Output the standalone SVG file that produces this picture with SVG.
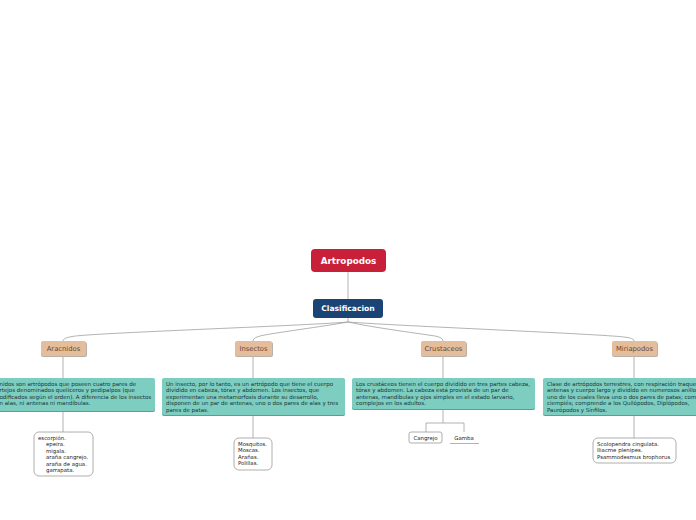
<svg xmlns="http://www.w3.org/2000/svg" width="696" height="520" viewBox="0 0 696 520">
<style>
.t{font-family:"DejaVu Sans",Verdana,sans-serif}
.root{fill:#c82038}
.cls{fill:#1b4476}
.l2{fill:#e4bd9d}
.l2s{fill:#b9b0a8}
.l2t{font-size:6.8px;fill:#6a4a32}
.desc{fill:#7dcdc1}
.descs{fill:#5c9e94}
.dt{font-size:5.5px;fill:#183632}
.leaf{fill:#fff;stroke:#9a9a9a;stroke-width:0.8}
.lt{font-size:5.4px;fill:#222}
.c{fill:none;stroke:#a0a0a0;stroke-width:0.8}
</style>
<rect width="696" height="520" fill="#fff"/>
<g id="connectors">
<path class="c" d="M348,272 V299"/>
<path class="c" d="M348,318 V322 C300,326 90,333 72,336.5 Q63,338 63,341"/>
<path class="c" d="M348,322 C320,327 280,332 262,335.5 Q253,337.5 253,341"/>
<path class="c" d="M348,322 C370,327 415,333 435,336 Q443,337.5 443,341"/>
<path class="c" d="M348,322 C400,326 600,334 624,337 Q634,338 634,341"/>
<path class="c" d="M63,356 V378 M63,411 V432"/>
<path class="c" d="M253,356 V378 M253,415 V438"/>
<path class="c" d="M443,356 V378 M443,409 V423 M426,423 H464 M426,423 V432 M464,423 V432"/>
<path class="c" d="M634,356 V378 M634,415 V438"/>
</g>
<g id="artropodos">
<rect class="root" x="311" y="249" width="75" height="23" rx="4"/>
<text class="t" x="348.5" y="263.5" text-anchor="middle" font-size="8.8" font-weight="bold" fill="#fff">Artropodos</text>
</g>
<g id="clasificacion">
<rect class="cls" x="313" y="299" width="70" height="19" rx="3"/>
<text class="t" x="348" y="311.3" text-anchor="middle" font-size="7.6" font-weight="bold" fill="#fff">Clasificacion</text>
</g>
<g id="aracnidos">
<rect class="l2s" x="41" y="342" width="46" height="15" rx="2"/>
<rect class="l2" x="41" y="341" width="45" height="15" rx="2"/>
<text class="t l2t" x="63.5" y="351" text-anchor="middle">Aracnidos</text>
</g>
<g id="insectos">
<rect class="l2s" x="235" y="342" width="38" height="15" rx="2"/>
<rect class="l2" x="235" y="341" width="37" height="15" rx="2"/>
<text class="t l2t" x="253.5" y="351" text-anchor="middle">Insectos</text>
</g>
<g id="crustaceos">
<rect class="l2s" x="421" y="342" width="46" height="15" rx="2"/>
<rect class="l2" x="421" y="341" width="45" height="15" rx="2"/>
<text class="t l2t" x="443.5" y="351" text-anchor="middle">Crustaceos</text>
</g>
<g id="miriapodos">
<rect class="l2s" x="612" y="342" width="46" height="15" rx="2"/>
<rect class="l2" x="612" y="341" width="45" height="15" rx="2"/>
<text class="t l2t" x="634.5" y="351" text-anchor="middle">Miriapodos</text>
</g>
<g id="desc-aracnidos">
<rect class="descs" x="-30" y="379" width="185" height="33" rx="2"/>
<rect class="desc" x="-30" y="378" width="185" height="33" rx="2"/>
<text class="t dt"><tspan x="-0.5" y="385.5">nidos son artrópodos que poseen cuatro pares de</tspan><tspan x="-0.5" y="392">rtejos denominados quelíceros y pedipalpos (que</tspan><tspan x="-0.5" y="398.5">odificados según el orden). A diferencia de los insectos</tspan><tspan x="-0.5" y="405">n alas, ni antenas ni mandíbulas.</tspan></text>
</g>
<g id="desc-insectos">
<rect class="descs" x="162" y="379" width="183" height="37" rx="2"/>
<rect class="desc" x="162" y="378" width="183" height="37" rx="2"/>
<text class="t dt"><tspan x="166" y="385.5">Un insecto, por lo tanto, es un artrópodo que tiene el cuerpo</tspan><tspan x="166" y="392">dividido en cabeza, tórax y abdomen. Los insectos, que</tspan><tspan x="166" y="398.5">experimentan una metamorfosis durante su desarrollo,</tspan><tspan x="166" y="405">disponen de un par de antenas, uno o dos pares de alas y tres</tspan><tspan x="166" y="411.5">pares de patas.</tspan></text>
</g>
<g id="desc-crustaceos">
<rect class="descs" x="352" y="379" width="183" height="31" rx="2"/>
<rect class="desc" x="352" y="378" width="183" height="31" rx="2"/>
<text class="t dt"><tspan x="356" y="385.5">Los crustáceos tienen el cuerpo dividido en tres partes cabeza,</tspan><tspan x="356" y="392">tórax y abdomen. La cabeza está provista de un par de</tspan><tspan x="356" y="398.5">antenas, mandíbulas y ojos simples en el estado larvario,</tspan><tspan x="356" y="405">complejos en los adultos.</tspan></text>
</g>
<g id="desc-miriapodos">
<rect class="descs" x="543" y="379" width="160" height="37" rx="2"/>
<rect class="desc" x="543" y="378" width="160" height="37" rx="2"/>
<text class="t dt"><tspan x="547" y="385.5">Clase de artrópodos terrestres, con respiración traque</tspan><tspan x="547" y="392">antenas y cuerpo largo y dividido en numerosos anillo</tspan><tspan x="547" y="398.5">uno de los cuales lleva uno o dos pares de patas; com</tspan><tspan x="547" y="405">ciempiés; comprende a los Quilópodos, Diplópodos,</tspan><tspan x="547" y="411.5">Paurópodos y Sínfilos.</tspan></text>
</g>
<g id="leaf-aracnidos">
<rect class="leaf" x="34" y="432" width="59" height="44" rx="5"/>
<text class="t lt"><tspan x="38" y="439.5">escorpión.</tspan><tspan x="46" y="446">epeira.</tspan><tspan x="46" y="452.5">migala.</tspan><tspan x="46" y="459">araña cangrejo.</tspan><tspan x="46" y="465.5">araña de agua.</tspan><tspan x="46" y="472">garrapata.</tspan></text>
</g>
<g id="leaf-insectos">
<rect class="leaf" x="234" y="438" width="38" height="32" rx="5"/>
<text class="t lt"><tspan x="238" y="445.5">Mosquitos.</tspan><tspan x="238" y="452">Moscas.</tspan><tspan x="238" y="458.5">Arañas.</tspan><tspan x="238" y="465">Polillas.</tspan></text>
</g>
<g id="cangrejo">
<rect class="leaf" x="409" y="432" width="33" height="11" rx="2"/>
<text class="t lt" x="425.5" y="439.5" text-anchor="middle">Cangrejo</text>
</g>
<g id="gamba">
<path class="c" d="M450,443.5 H479"/>
<text class="t lt" x="464" y="439.5" text-anchor="middle">Gamba</text>
</g>
<g id="leaf-miriapodos">
<rect class="leaf" x="593" y="438" width="83" height="25" rx="5"/>
<text class="t lt"><tspan x="597" y="445.5">Scolopendra cingulata.</tspan><tspan x="597" y="452">Iliacme plenipes.</tspan><tspan x="597" y="458.5">Psammodesmus brophorus</tspan></text>
</g>
</svg>
